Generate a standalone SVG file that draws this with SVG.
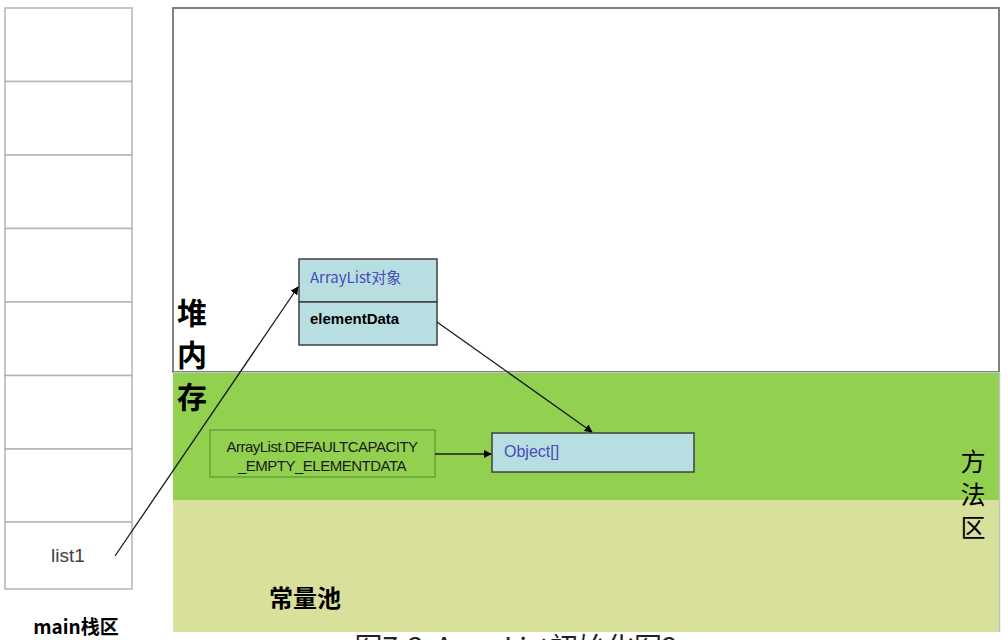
<svg xmlns="http://www.w3.org/2000/svg" width="1008" height="640" viewBox="0 0 1008 640">
  <style>
    .cell { fill: #ffffff; stroke: #b4b4b4; stroke-width: 1.5; }
    .obj { fill: #b7dfe2; stroke: #404040; stroke-width: 1.5; }
    .conn { stroke: #1a1a1a; stroke-width: 1.3; fill: none; marker-end: url(#arrow); }
    .cjk { font-family: "Noto Sans CJK SC", "Liberation Sans", sans-serif; }
    .lat { font-family: "Liberation Sans", "Noto Sans CJK SC", sans-serif; }
  </style>
  <defs>
    <marker id="arrow" viewBox="0 0 10 10" refX="9" refY="5" markerWidth="8" markerHeight="8" markerUnits="userSpaceOnUse" orient="auto">
      <path d="M0,0 L10,5 L0,10 z" fill="#000000"/>
    </marker>
  </defs>
  <rect x="0" y="0" width="1008" height="640" fill="#ffffff"/>

  <!-- heap area -->
  <g id="heap">
    <rect x="173" y="8" width="826" height="364" fill="#ffffff" stroke="#808080" stroke-width="2"/>
  </g>

  <!-- method area -->
  <g id="method-area">
    <rect x="173" y="372" width="826" height="128" fill="#92d050"/>
    <line x1="173" y1="372.5" x2="999" y2="372.5" stroke="#c8c8c8" stroke-width="1"/>
  </g>

  <!-- constant pool -->
  <g id="constant-pool">
    <rect x="173" y="500" width="826" height="132" fill="#d9e09b"/>
    <line x1="999.5" y1="372" x2="999.5" y2="632" stroke="#c0c0c0" stroke-width="1.5"/>
    <text class="cjk" x="305" y="607" font-size="24" font-weight="bold" text-anchor="middle">常量池</text>
  </g>

  <!-- region labels, drawn over the region fills -->
  <g id="region-labels">
    <text class="cjk" x="192" y="324" font-size="30" font-weight="bold" text-anchor="middle">堆</text>
    <text class="cjk" x="192" y="366" font-size="30" font-weight="bold" text-anchor="middle">内</text>
    <text class="cjk" x="192" y="408" font-size="30" font-weight="bold" text-anchor="middle">存</text>
    <text class="cjk" x="973" y="471" font-size="25" text-anchor="middle">方</text>
    <text class="cjk" x="973" y="504" font-size="25" text-anchor="middle">法</text>
    <text class="cjk" x="973" y="537" font-size="25" text-anchor="middle">区</text>
  </g>

  <!-- main stack -->
  <g id="main-stack">
    <rect class="cell" x="5" y="8" width="127" height="73.5"/>
    <rect class="cell" x="5" y="81.5" width="127" height="73.5"/>
    <rect class="cell" x="5" y="155" width="127" height="73.5"/>
    <rect class="cell" x="5" y="228.5" width="127" height="73.5"/>
    <rect class="cell" x="5" y="302" width="127" height="73.5"/>
    <rect class="cell" x="5" y="375.5" width="127" height="73.5"/>
    <rect class="cell" x="5" y="449" width="127" height="73"/>
    <rect class="cell" x="5" y="522" width="127" height="67"/>
    <text class="lat" x="68" y="562" font-size="19" fill="#404040" text-anchor="middle">list1</text>
    <text class="cjk" x="76" y="634" font-size="19" font-weight="bold" text-anchor="middle">main栈区</text>
  </g>

  <!-- ArrayList object -->
  <g id="arraylist-object">
    <rect class="obj" x="299" y="259" width="138" height="43"/>
    <rect class="obj" x="299" y="302" width="138" height="43"/>
    <text class="cjk" x="310" y="283" font-size="15" fill="#4a4ab8">ArrayList对象</text>
    <text class="lat" x="310" y="324" font-size="15" font-weight="bold" fill="#000000">elementData</text>
  </g>

  <!-- empty element data constant -->
  <g id="default-capacity">
    <rect x="210" y="430" width="225" height="47" fill="none" stroke="#5b9a30" stroke-width="1.2"/>
    <text class="lat" x="322" y="452" font-size="15" fill="#1a1a1a" text-anchor="middle" letter-spacing="-0.5">ArrayList.DEFAULTCAPACITY</text>
    <text class="lat" x="322" y="471" font-size="15" fill="#1a1a1a" text-anchor="middle" letter-spacing="-0.5">_EMPTY_ELEMENTDATA</text>
  </g>

  <!-- Object[] array -->
  <g id="object-array">
    <rect class="obj" x="492" y="433" width="202" height="39"/>
    <text class="lat" x="504" y="457" font-size="16" fill="#4a4ab8">Object[]</text>
  </g>

  <!-- references -->
  <g id="connectors">
    <line class="conn" x1="115" y1="556" x2="298" y2="287"/>
    <line class="conn" x1="437" y1="322" x2="592" y2="432"/>
    <line class="conn" x1="435" y1="454" x2="491" y2="454"/>
  </g>

  <!-- figure caption, cut off at the bottom edge -->
  <text class="cjk" x="516" y="658" font-size="28" fill="#222222" text-anchor="middle" word-spacing="6">图7-3  ArrayList初始化图2</text>
</svg>
